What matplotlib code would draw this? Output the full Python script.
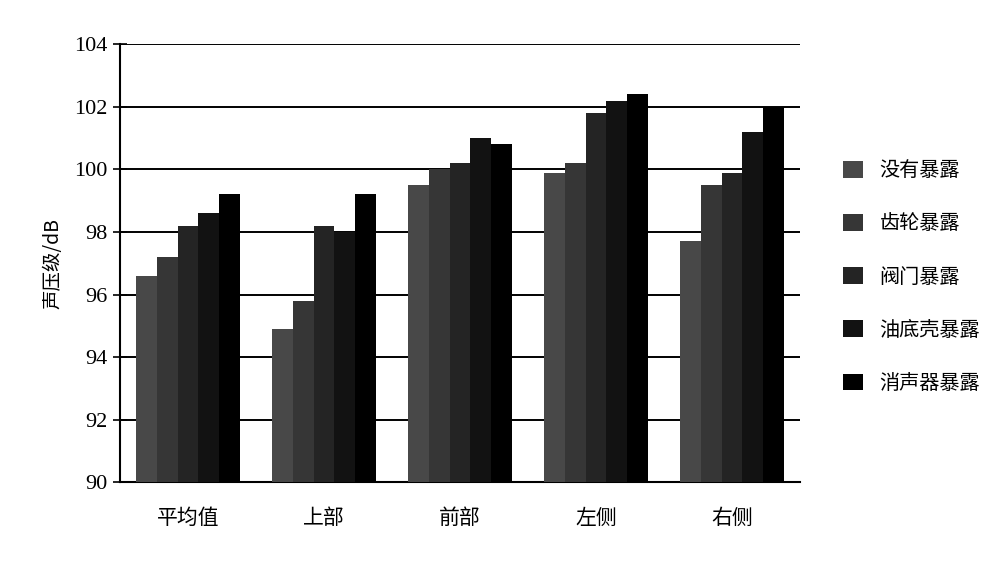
import matplotlib
matplotlib.use("Agg")
import matplotlib.pyplot as plt
import numpy as np

plt.rcParams['font.family'] = ['Noto Sans CJK SC', 'DejaVu Sans']

# Measurement positions and exposure conditions
positions = ['平均值', '上部', '前部', '左侧', '右侧']
series_names = ['没有暴露', '齿轮暴露', '阀门暴露', '油底壳暴露', '消声器暴露']

# Sound pressure level (dB) per condition, one value per position
no_exposure = [96.6, 94.9, 99.5, 99.9, 97.7]
gear_exposure = [97.2, 95.8, 100.0, 100.2, 99.5]
valve_exposure = [98.2, 98.2, 100.2, 101.8, 99.9]
oilpan_exposure = [98.6, 98.0, 101.0, 102.2, 101.2]
muffler_exposure = [99.2, 99.2, 100.8, 102.4, 102.0]

y_ticks = [90, 92, 94, 96, 98, 100, 102, 104]

series = [no_exposure, gear_exposure, valve_exposure, oilpan_exposure, muffler_exposure]
colors = ['#484848', '#363636', '#242424', '#121212', '#000000']

fig = plt.figure(figsize=(10, 5.68), dpi=100)
ax = fig.add_axes([0.12, 0.151, 0.68, 0.771])

x = np.arange(len(positions))
width = 0.152
handles = []
for i, (vals, c, name) in enumerate(zip(series, colors, series_names)):
    offs = (i - 2) * width
    b = ax.bar(x + offs, np.array(vals) - 90, width=width, bottom=90,
               color=c, edgecolor='none', label=name, zorder=3)
    handles.append(b)

ax.set_ylim(90, 104)
ax.set_xlim(-0.5, len(positions) - 0.5)
ax.set_yticks(y_ticks)
ax.set_yticklabels([str(t) for t in y_ticks], fontfamily='Liberation Serif', fontsize=16)
ax.yaxis.grid(True, color='black', linewidth=1.4, zorder=1)
ax.set_axisbelow(True)

ax.set_xticks(x)
ax.set_xticklabels(positions, fontsize=15)
ax.tick_params(axis='x', length=0, pad=18)
ax.tick_params(axis='y', direction='inout', length=10, width=1.2, pad=4)

for side in ['top', 'right']:
    ax.spines[side].set_visible(False)
ax.spines['left'].set_linewidth(1.5)
ax.spines['bottom'].set_linewidth(1.5)

ax.set_ylabel('声压级/dB', fontsize=14, labelpad=8)

fig.legend(handles=handles, labels=series_names, loc='upper left',
           bbox_to_anchor=(0.825, 0.75), frameon=False, fontsize=14.5,
           labelspacing=1.6, handlelength=1.0, handleheight=0.9,
           handletextpad=0.8)

fig.savefig('out.png', dpi=100, facecolor='white')
